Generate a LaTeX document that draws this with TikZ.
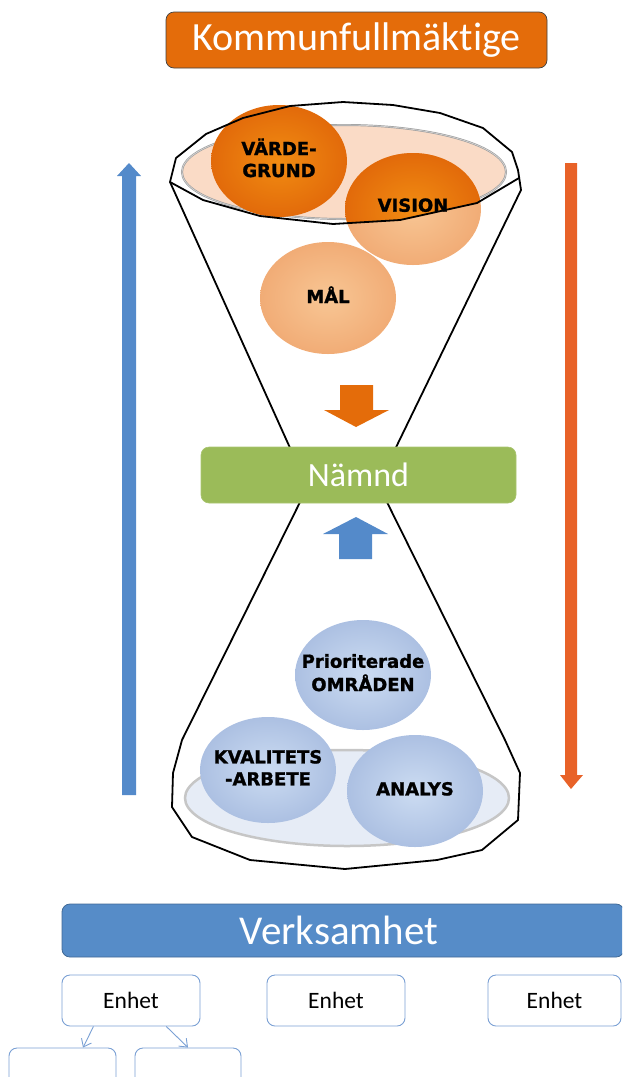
\documentclass[tikz,border=0pt]{standalone}
\usepackage{fontspec}
\setmainfont{Carlito}[Ligatures=NoCommon]
\newfontfamily\ballfont{DejaVu Sans}[BoldFeatures={FakeBold=1.2}]
\usetikzlibrary{shapes.geometric,calc,arrows.meta}
\definecolor{korange}{RGB}{228,108,10}
\definecolor{ngreen}{RGB}{155,187,89}
\definecolor{vblue}{RGB}{86,140,200}
\definecolor{bigblue}{RGB}{84,138,202}
\definecolor{bigorange}{RGB}{232,98,40}
\definecolor{eblue}{RGB}{122,160,212}
\definecolor{dkin}{RGB}{241,140,18}
\definecolor{dkout}{RGB}{226,106,10}
\definecolor{ltin}{RGB}{248,198,148}
\definecolor{ltout}{RGB}{241,172,118}
\definecolor{bin}{RGB}{204,220,242}
\definecolor{bout}{RGB}{172,192,226}
\definecolor{peach}{RGB}{250,219,198}
\definecolor{plate}{RGB}{230,236,246}
\newcommand{\bt}[1]{\makebox[0pt][c]{\begin{tabular}{@{}c@{}}#1\end{tabular}}}
\tikzset{
  ball/.style={ellipse, minimum width=136pt, minimum height=112pt, inner sep=0pt,
    font=\ballfont\bfseries\fontsize{18}{22}\selectfont},
  darkball/.style={ball, shading=radial, inner color=dkin, outer color=dkout},
  lightball/.style={ball, shading=radial, inner color=ltin, outer color=ltout},
  blueball/.style={ball, shading=radial, inner color=bin, outer color=bout},
  fun/.style={draw=black, line width=1.8pt, line join=round},
  ebox/.style={rectangle, rounded corners=8pt, draw=eblue, line width=0.9pt, fill=white,
    minimum height=51pt, inner sep=0pt, font=\fontsize{23.5}{28}\selectfont},
  earrow/.style={draw=eblue, line width=0.9pt, -{Straight Barb[length=7pt,width=11pt]}},
  titlebox/.style={rectangle, rounded corners=8pt, inner sep=0pt, text=white}
}
\begin{document}
\begin{tikzpicture}[x=1pt,y=-1pt]
\useasboundingbox (0,0) rectangle (622,1077);
\clip (0,0) rectangle (622,1077);

% rim coordinates
\coordinate (r1) at (170,182);
\coordinate (r2) at (176,158);
\coordinate (r3) at (206,134);
\coordinate (r4) at (243,118);
\coordinate (r5) at (290,106);
\coordinate (r6) at (343,102);
\coordinate (r7) at (393,105);
\coordinate (r8) at (440,113);
\coordinate (r9) at (483,128);
\coordinate (r10) at (512,152);
\coordinate (r11) at (518,170);
\coordinate (r12) at (521,190);
\coordinate (r13) at (519,178);
\coordinate (f1) at (477,203);
\coordinate (f2) at (400,220);
\coordinate (f3) at (333,224);
\coordinate (f4) at (260,216);
\coordinate (f5) at (203,200);

% inner rim ellipse and plate
\filldraw[fill=peach, draw=gray!75, line width=2pt] (344,172) ellipse [x radius=162, y radius=47];
\draw[white!70!gray, line width=0.6pt] (344,172) ellipse [x radius=162, y radius=47];
\filldraw[fill=plate, draw=gray!45, line width=2.5pt] (347,798) ellipse [x radius=162, y radius=48];

% balls top
\node[lightball] (mal) at (328,298) {\bt{MÅL}};
\node[lightball, path picture={
   \begin{scope}
   \clip (r1)--(r2)--(r3)--(r4)--(r5)--(r6)--(r7)--(r8)--(r9)--(r10)--(r11)--(r13)--(f1)--(f2)--(f3)--(f4)--(f5)--cycle;
   \shade[inner color=dkin, outer color=dkout] (path picture bounding box.south west) rectangle (path picture bounding box.north east);
   \end{scope}}] (vision) at (413,209) {\raisebox{10pt}{\bt{VISION}}};
\node[darkball] (vardegrund) at (279,161) {\bt{VÄRDE-\\GRUND}};

% balls bottom
\node[blueball, minimum height=110pt] (prio) at (363,675) {\bt{Prioriterade\\OMRÅDEN}};
\node[blueball, minimum height=106pt] (kval) at (268,770) {\bt{KVALITETS\\-ARBETE}};
\node[blueball] (analys) at (415,791) {\bt{ANALYS}};

% funnel outlines
\draw[fun] (300,470) -- (r1) -- (r2) -- (r3) -- (r4) -- (r5) -- (r6) -- (r7) -- (r8) -- (r9) -- (r10) -- (r11) -- (r12) -- (385,470);
\draw[fun] (r1) -- (f5) -- (f4) -- (f3) -- (f2) -- (f1) -- (r13);
\draw[fun] (312,478) -- (182,740) -- (173,773) -- (172,807) -- (192,837) -- (250,860) -- (345,869) -- (437,860) -- (482,850) -- (518,820) -- (520,773) -- (505,740) -- (375,478);

% small block arrows
\fill[korange] (340,385) -- (373,385) -- (373,410) -- (389,410) -- (356,427) -- (324,410) -- (340,410) -- cycle;
\fill[bigblue] (339,559) -- (372,559) -- (372,534) -- (388,534) -- (356,517) -- (323,534) -- (339,534) -- cycle;

% big side arrows
\fill[bigblue] (122,795) -- (136,795) -- (136,176) -- (141,176) -- (129,163) -- (117,176) -- (122,176) -- cycle;
\fill[bigorange] (565,163) -- (577,163) -- (577,775) -- (583,775) -- (571,789) -- (560,775) -- (565,775) -- cycle;

% title boxes
\node[titlebox, fill=korange, draw=black!75, line width=0.7pt, minimum width=381pt, minimum height=56pt,
  font=\fontsize{40}{48}\selectfont] (kf) at (356.5,40) {Kommunfullmäktige};
\node[titlebox, fill=ngreen, draw=ngreen!85!white, line width=0.6pt, minimum width=315pt, minimum height=56pt,
  font=\fontsize{34}{40}\selectfont] (namnd) at (358.5,475) {Nämnd};
\node[titlebox, fill=vblue, draw=vblue!75!black, line width=0.8pt, minimum width=562pt, minimum height=53pt,
  font=\fontsize{41}{48}\selectfont] (verk) at (343,930.5) {\makebox[0pt]{\hspace*{-8pt}Verksamhet}};

% units
\node[ebox, minimum width=138pt] (e1) at (131,1000.5) {Enhet};
\node[ebox, minimum width=138pt] (e2) at (336,1000.5) {Enhet};
\node[ebox, minimum width=133pt] (e3) at (554.5,1000.5) {Enhet};
\node[ebox, minimum width=107pt, minimum height=52pt] (s1) at (62.5,1074) {};
\node[ebox, minimum width=106pt, minimum height=52pt] (s2) at (188,1074) {};

\draw[earrow] ($(e1.south west)!0.23!(e1.south east)$) -- ($(s1.north west)!0.69!(s1.north east)$);
\draw[earrow] ($(e1.south west)!0.754!(e1.south east)$) -- ($(s2.north west)!0.5!(s2.north east)$);
\end{tikzpicture}
\end{document}
